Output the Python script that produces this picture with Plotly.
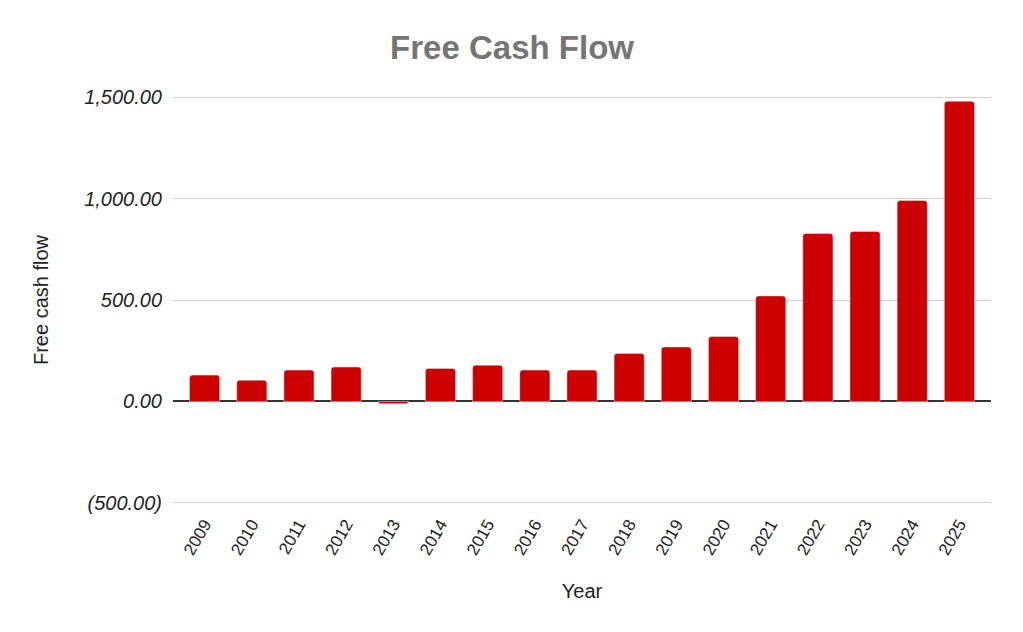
import plotly.graph_objects as go

# free cash flow per year
years = [str(y) for y in range(2009, 2026)]
free_cash_flow = [130, 105, 155, 170, -11, 163, 179, 155, 155,
                  237, 269, 320, 520, 828, 838, 990, 1479]

y_ticks = [-500, 0, 500, 1000, 1500]
y_tick_text = ["(500.00)", "0.00", "500.00", "1,000.00", "1,500.00"]

fig = go.Figure()
fig.add_trace(go.Bar(
    x=years, y=free_cash_flow,
    marker=dict(color="#cc0000", cornerradius=3),
))

# page body adds an 8px offset, so margins are shifted accordingly
fig.update_layout(
    width=1023, height=632,
    paper_bgcolor="white", plot_bgcolor="white",
    font=dict(family="Liberation Sans, Arial", color="#222222"),
    title=dict(text="<b>Free Cash Flow</b>", x=0.4927, xanchor="center",
               y=0.938, yanchor="middle",
               font=dict(size=33, color="#757575")),
    margin=dict(l=165, r=40, t=87, b=135),
    bargap=0.36,
    showlegend=False,
)
fig.update_xaxes(
    type="category", range=[-0.67, 16.67],
    tickangle=-60, tickfont=dict(size=17, color="#222222"),
    ticklabelstandoff=5,
    showgrid=False, showline=False, zeroline=False,
    title=dict(text="Year", font=dict(size=20, color="#222222"), standoff=26),
)
fig.update_yaxes(
    range=[-510, 1510], tickvals=y_ticks, ticktext=y_tick_text,
    tickfont=dict(size=20, color="#222222", style="italic"),
    ticklabelstandoff=10,
    showgrid=True, gridcolor="#cccccc", gridwidth=1,
    zeroline=True, zerolinecolor="#333333", zerolinewidth=1.5,
    showline=False,
    title=dict(text="Free cash flow", font=dict(size=20, color="#222222"), standoff=30),
)

fig.write_html("out.html")
